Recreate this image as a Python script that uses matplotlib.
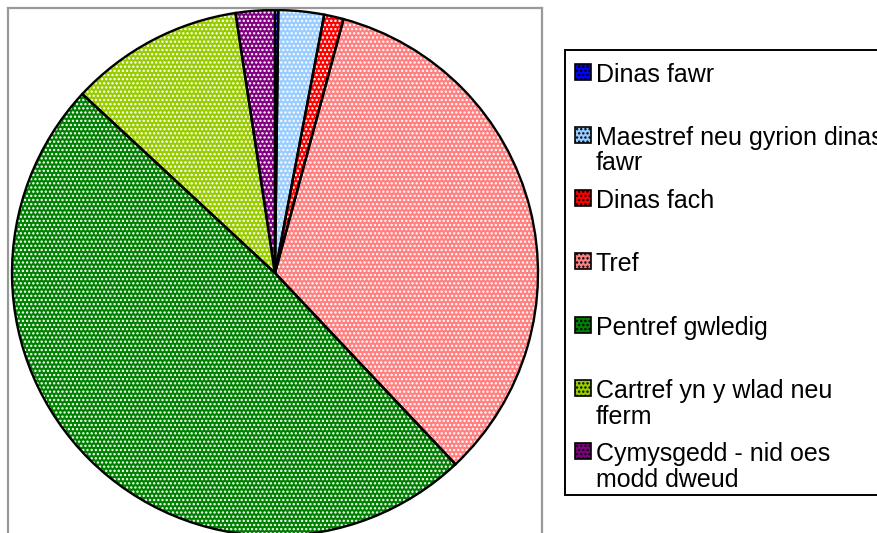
import matplotlib
matplotlib.use("Agg")
import matplotlib.pyplot as plt
from matplotlib.patches import Rectangle
from matplotlib.lines import Line2D

plt.rcParams['font.family'] = ['Liberation Sans', 'DejaVu Sans']
plt.rcParams['hatch.linewidth'] = 1.1

labels = ["Dinas fawr", "Maestref neu gyrion dinas\nfawr", "Dinas fach", "Tref",
          "Pentref gwledig", "Cartref yn y wlad neu\nfferm", "Cymysgedd - nid oes\nmodd dweud"]
values = [0.2, 2.8, 1.2, 33.8, 49.0, 10.7, 2.4]
colors = ["#0000FF", "#99CCFF", "#FF0000", "#FF8080", "#008000", "#99CC00", "#800080"]

W, H = 877, 533
fig = plt.figure(figsize=(W / 100, H / 100), dpi=100)
ax = fig.add_axes([0, 0, 1, 1])

# pie centre and radius in pixels
cx, cy, r = 275, 273, 263

# fill, white dot pattern, black outlines
ax.pie(values, colors=colors, startangle=90, counterclock=False,
       wedgeprops=dict(linewidth=0))
ax.pie(values, colors=['none'] * len(values), startangle=90, counterclock=False,
       wedgeprops=dict(linewidth=0, edgecolor='white', hatch='....'))
ax.pie(values, colors=['none'] * len(values), startangle=90, counterclock=False,
       wedgeprops=dict(linewidth=1.7, edgecolor='black'))
ax.set_aspect('auto')
ax.set_xlim(-cx / r, (W - cx) / r)
ax.set_ylim(-(H - cy) / r, cy / r)
ax.axis('off')


def fx(px):
    return px / W


def fy(py):
    return 1 - py / H


# grey plot-area frame
frame_col = '#999999'
for xs, ys in [((8, 8), (8, 545)), ((8, 542), (8, 8)), ((542, 542), (8, 545))]:
    fig.add_artist(Line2D([fx(x) for x in xs], [fy(y) for y in ys],
                          color=frame_col, linewidth=1.6))

# legend box
fig.add_artist(Rectangle((fx(565), fy(495)), fx(900) - fx(565), fy(50) - fy(495),
                         facecolor='white', edgecolor='black', linewidth=1.4))
step = 63.3
for i, (lab, col) in enumerate(zip(labels, colors)):
    yc = 71.5 + i * step
    fig.add_artist(Rectangle((fx(575), fy(yc + 8)), fx(16), 16 / H,
                             facecolor=col, edgecolor='black', linewidth=1.2,
                             hatch='....'))
    fig.text(fx(596), fy(yc - 9), lab, fontsize=18, va='top', ha='left',
             linespacing=1.08, color='black')

fig.savefig("out.png", dpi=100)
